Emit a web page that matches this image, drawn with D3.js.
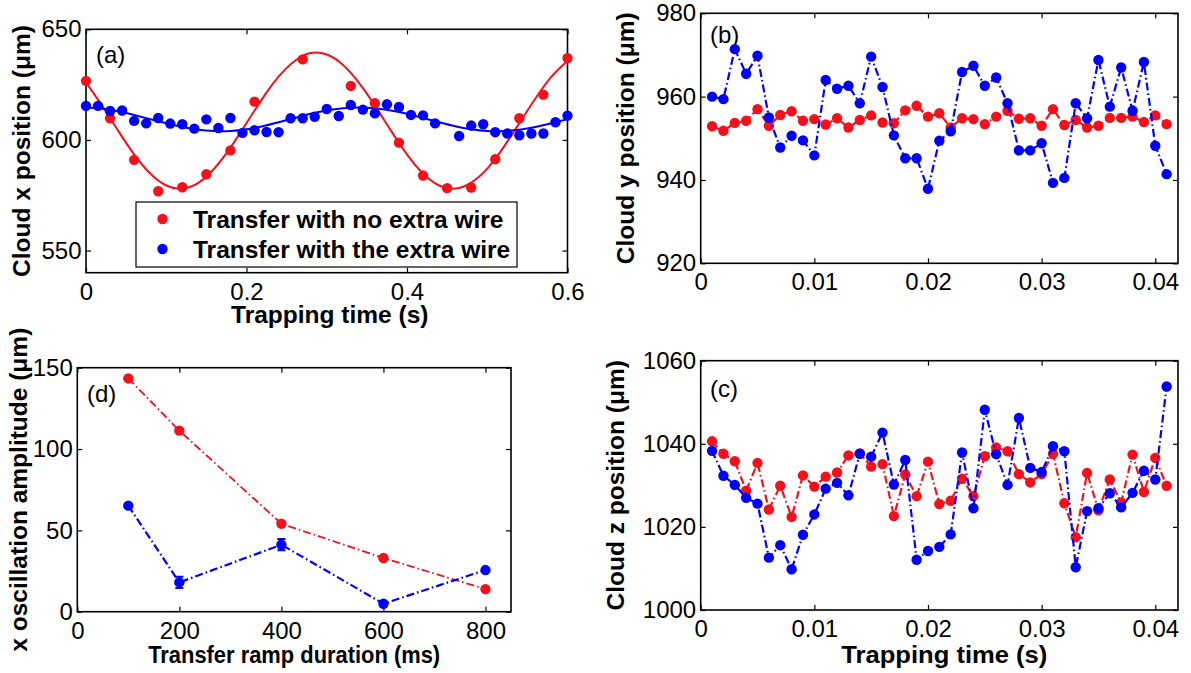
<!DOCTYPE html>
<html><head><meta charset="utf-8">
<script src="https://cdn.jsdelivr.net/npm/d3@7"></script>
<style>
html,body{margin:0;padding:0;background:#fff;}
svg{display:block;font-family:"Liberation Sans",Arial,Helvetica,sans-serif;}
</style></head><body>
<svg id="fig" width="1191" height="673"></svg>
<script>
// ---------- data ----------
// (a) cloud x position vs trapping time
const aRedX = [0,0.03,0.06,0.09,0.12,0.15,0.18,0.21,0.27,0.33,0.36,0.39,0.42,0.45,0.48,0.51,0.54,0.57,0.6];
const aRedY = [626.7,609.8,591,576.8,578.6,584.5,595.3,617.3,636.4,624.4,616.6,598.8,583.9,578.2,578.5,591.3,609.8,620.5,637];
const aBlueX = [0,0.015,0.03,0.045,0.06,0.075,0.09,0.105,0.12,0.135,0.15,0.165,0.18,0.195,0.21,0.225,0.24,0.255,0.27,0.285,0.3,0.315,0.33,0.345,0.36,0.375,0.39,0.405,0.42,0.435,0.465,0.48,0.495,0.51,0.525,0.54,0.555,0.57,0.585,0.6];
const aBlueY = [615.4,615.4,613.1,613.3,608.6,607.5,609.9,607.4,607.1,605.1,609.3,605.4,609.9,603.2,604.4,603.6,603.5,609.8,609.8,610.5,614,610.8,615.8,613.7,612,616.1,614.9,611.3,611.1,607.5,601.8,606.5,607.1,603.5,602.9,602.1,602.9,602.9,608,611];
const aFitX = [0,0.02,0.04,0.06,0.08,0.1,0.12,0.14,0.16,0.18,0.2,0.22,0.24,0.26,0.28,0.3,0.32,0.34,0.36,0.38,0.4,0.42,0.44,0.46,0.48,0.5,0.52,0.54,0.56,0.58,0.6];
const aRedFit = [625.9,615.5,604.2,593.5,584.8,579.4,578.0,580.6,587.1,596.5,607.6,618.8,628.6,635.7,639.3,638.6,634.0,625.9,615.5,604.2,593.5,584.8,579.4,578.0,580.7,587.0,596.5,607.6,618.7,628.6,635.8];
const aBlueFit = [614.7,614.1,613.0,611.3,609.4,607.5,605.8,604.6,604.0,604.0,604.8,606.2,608.0,609.9,611.8,613.3,614.3,614.7,614.3,613.3,611.8,609.9,608.0,606.2,604.8,604.0,604.0,604.6,605.8,607.5,609.4];
const aXTicks = [0,0.2,0.4,0.6], aXTickLabels = ["0","0.2","0.4","0.6"];
const aYTicks = [550,600,650], aYTickLabels = ["550","600","650"];

// (b),(c) shared time axis
const tX = [0.001,0.002,0.003,0.004,0.005,0.006,0.007,0.008,0.009,0.010,0.011,0.012,0.013,0.014,0.015,0.016,0.017,0.018,0.019,0.020,0.021,0.022,0.023,0.024,0.025,0.026,0.027,0.028,0.029,0.030,0.031,0.032,0.033,0.034,0.035,0.036,0.037,0.038,0.039,0.040,0.041];
const tXTicks = [0,0.01,0.02,0.03,0.04], tXTickLabels = ["0","0.01","0.02","0.03","0.04"];

// (b) cloud y position
const bRed = [952.9,951.8,953.7,954.2,957,953,955.6,956.5,954.2,954.6,953.3,954.8,952.6,954.4,955.5,953.8,953.6,956.7,957.8,955.2,956,952.6,954.8,954.6,953.4,955.2,956.6,954.7,954.8,953,957,953.2,954.4,952.6,953,954.9,954.9,955.2,953.9,955.5,953.4];
const bBlue = [960,959.4,971.4,965.5,969.8,955,947.8,950.6,949.5,945.9,964,961.9,962.6,958.4,969.6,962.3,950.7,945.2,945.2,937.9,949.4,951.7,965.9,967.4,962.6,964.6,958.4,947.1,947.1,948.8,939.3,940.5,958.4,954.8,968.8,957.6,967,956.6,968.3,948.2,941.4];
const bYTicks = [920,940,960,980], bYTickLabels = ["920","940","960","980"];

// (c) cloud z position
const cRed = [1040.6,1037.6,1035.8,1028.7,1035.4,1024.2,1029.9,1022.4,1032.4,1029.7,1032.1,1033.1,1037.2,1037.7,1034.5,1035.1,1022.6,1032.6,1027.4,1035.7,1025.5,1026.3,1031.6,1027.4,1037,1039.1,1038.2,1032.7,1030.7,1032.7,1037.6,1025.7,1017.5,1033,1024,1031.4,1025.9,1037.4,1028.4,1036.6,1029.9];
const cBlue = [1038.3,1032.3,1030.1,1027,1025.6,1012.6,1015.6,1009.8,1018.1,1023,1029.2,1030.6,1027.6,1037.6,1036.9,1042.7,1030.2,1036.1,1012.1,1014.2,1015.2,1018.2,1037.9,1024.5,1048.2,1037.5,1030.1,1046.2,1034.2,1033.2,1039.4,1038.2,1010.3,1023.8,1024.5,1028.1,1024.7,1028.2,1033.5,1031.4,1053.8];
const cYTicks = [1000,1020,1040,1060], cYTickLabels = ["1000","1020","1040","1060"];

// (d) x oscillation amplitude vs ramp duration
const dX = [100,200,400,600,800];
const dRed = [143.4,111.3,54.1,33,13.9];
const dBlue = [65.2,18,41.2,4.9,25.6];
const dBlueErr = [1,3.5,3.5,1,1];
const dXTicks = [0,200,400,600,800], dXTickLabels = ["0","200","400","600","800"];
const dYTicks = [0,50,100,150], dYTickLabels = ["0","50","100","150"];

const legendLabels = ["Transfer with no extra wire","Transfer with the extra wire"];
const RED = "#f5101c", BLUE = "#0000ff";

// ---------- drawing ----------
const svg = d3.select("#fig");
const TICKFONT = 24, LABFONT = 24.5;

function panel(cfg){
  const x = d3.scaleLinear().domain(cfg.xDom).range([cfg.x0, cfg.x1]);
  const y = d3.scaleLinear().domain(cfg.yDom).range([cfg.y1, cfg.y0]);
  const g = svg.append("g");
  const axStyle = sel => { sel.select(".domain").remove(); sel.selectAll("line").attr("stroke","#000").attr("stroke-width",1.2); sel.selectAll("text").attr("font-size",TICKFONT).attr("font-family",null).attr("fill","#000"); };
  g.append("g").attr("transform",`translate(0,${cfg.y1})`)
    .call(d3.axisBottom(x).tickValues(cfg.xTicks).tickSize(-5).tickPadding(10).tickFormat((d,i)=>cfg.xLabels[i])).call(axStyle);
  g.append("g").attr("transform",`translate(0,${cfg.y0})`)
    .call(d3.axisTop(x).tickValues(cfg.xTicks).tickSize(-5).tickFormat("")).call(axStyle);
  g.append("g").attr("transform",`translate(${cfg.x0},0)`)
    .call(d3.axisLeft(y).tickValues(cfg.yTicks).tickSize(-5).tickPadding(4.5).tickFormat((d,i)=>cfg.yLabels[i])).call(axStyle);
  g.append("g").attr("transform",`translate(${cfg.x1},0)`)
    .call(d3.axisRight(y).tickValues(cfg.yTicks).tickSize(-5).tickFormat("")).call(axStyle);
  g.append("rect").attr("x",cfg.x0).attr("y",cfg.y0).attr("width",cfg.x1-cfg.x0).attr("height",cfg.y1-cfg.y0)
    .attr("fill","none").attr("stroke","#000").attr("stroke-width",1.6);
  // y label
  g.append("text").attr("transform",`translate(${cfg.ylabX},${(cfg.y0+cfg.y1)/2}) rotate(-90)`)
    .attr("text-anchor","middle").attr("font-size",LABFONT).attr("font-weight","bold").text(cfg.yLabel);
  if(cfg.xLabel){
    const t = g.append("text").attr("x",(cfg.x0+cfg.x1)/2 + (cfg.xlabDx||0)).attr("y",cfg.xlabY)
      .attr("text-anchor","middle").attr("font-size",cfg.xlabFont||LABFONT).attr("font-weight","bold").text(cfg.xLabel);
    if(cfg.xlabLen) t.attr("textLength",cfg.xlabLen).attr("lengthAdjust","spacingAndGlyphs");
  }
  g.append("text").attr("x",cfg.letX).attr("y",cfg.letY).attr("font-size",24).text(cfg.letter);
  return {g,x,y};
}

function series(p, xs, ys, color, opts){
  const pts = xs.map((d,i)=>[d, ys[i]]);
  if(opts.line){
    p.g.append("path").datum(pts)
      .attr("d", d3.line().x(d=>p.x(d[0])).y(d=>p.y(d[1])))
      .attr("fill","none").attr("stroke",color).attr("stroke-width",opts.lw||2.2)
      .attr("stroke-dasharray", "8,3,1.6,3");
  }
  p.g.append("g").selectAll("circle").data(pts).join("circle")
    .attr("cx",d=>p.x(d[0])).attr("cy",d=>p.y(d[1])).attr("r",5.2).attr("fill",color);
}

function fit(p, xs, ys, color){
  p.g.append("path").datum(xs.map((d,i)=>[d, ys[i]]))
    .attr("d", d3.line().curve(d3.curveNatural).x(d=>p.x(d[0])).y(d=>p.y(d[1])))
    .attr("fill","none").attr("stroke",color).attr("stroke-width",2);
}

// (a)
const pa = panel({x0:86,x1:567.5,y0:29.3,y1:272.7,xDom:[0,0.6],yDom:[540,650],
  xTicks:aXTicks,xLabels:aXTickLabels,yTicks:aYTicks,yLabels:aYTickLabels,
  yLabel:"Cloud x position (μm)",ylabX:30,xLabel:"Trapping time (s)",xlabY:322.5,xlabDx:3,
  letter:"(a)",letX:96,letY:63});
fit(pa, aFitX, aRedFit, RED);
fit(pa, aFitX, aBlueFit, BLUE);
series(pa, aRedX, aRedY, RED, {line:false});
series(pa, aBlueX, aBlueY, BLUE, {line:false});
// legend
const lg = pa.g.append("g");
lg.append("rect").attr("x",136).attr("y",202).attr("width",381).attr("height",65).attr("fill","#fff").attr("stroke","#000").attr("stroke-width",1.2);
[RED,BLUE].forEach((c,i)=>{
  const cy = 219 + i*30;
  lg.append("circle").attr("cx",162.5).attr("cy",cy).attr("r",5.2).attr("fill",c);
  lg.append("text").attr("x",193).attr("y",cy+8.8).attr("font-size",LABFONT).attr("font-weight","bold").text(legendLabels[i]);
});

// (b)
const pb = panel({x0:700.7,x1:1178,y0:13.3,y1:263.3,xDom:[0,0.042],yDom:[920,980],
  xTicks:tXTicks,xLabels:tXTickLabels,yTicks:bYTicks,yLabels:bYTickLabels,
  yLabel:"Cloud y position (μm)",ylabX:634,letter:"(b)",letX:710,letY:43});
series(pb, tX, bRed, RED, {line:true});
series(pb, tX, bBlue, BLUE, {line:true});

// (c)
const pc = panel({x0:700.7,x1:1178,y0:360.7,y1:610,xDom:[0,0.042],yDom:[1000,1060],
  xTicks:tXTicks,xLabels:tXTickLabels,yTicks:cYTicks,yLabels:cYTickLabels,
  yLabel:"Cloud z position (μm)",ylabX:624,xLabel:"Trapping time (s)",xlabY:662.5,xlabDx:5,xlabFont:24.5,xlabLen:206,
  letter:"(c)",letX:710,letY:397});
series(pc, tX, cRed, RED, {line:true});
series(pc, tX, cBlue, BLUE, {line:true});

// (d)
const pd = panel({x0:77.3,x1:511,y0:367.7,y1:611.7,xDom:[0,850],yDom:[0,150],
  xTicks:dXTicks,xLabels:dXTickLabels,yTicks:dYTicks,yLabels:dYTickLabels,
  yLabel:"x oscillation amplitude (μm)",ylabX:27,xLabel:"Transfer ramp duration (ms)",xlabY:662.5,xlabFont:24.5,xlabLen:292,
  letter:"(d)",letX:87,letY:402});
series(pd, dX, dRed, RED, {line:true, lw:1.8});
// blue error bars
pd.g.append("g").selectAll("path").data(dX.map((d,i)=>[d,dBlue[i],dBlueErr[i]])).join("path")
  .attr("d",d=>{const x=pd.x(d[0]), y1=pd.y(d[1]-d[2]), y2=pd.y(d[1]+d[2]);
    return `M${x},${y1}V${y2}M${x-4},${y1}H${x+4}M${x-4},${y2}H${x+4}`;})
  .attr("stroke",BLUE).attr("stroke-width",2).attr("fill","none");
series(pd, dX, dBlue, BLUE, {line:true, lw:2.2});
</script>
</body></html>
